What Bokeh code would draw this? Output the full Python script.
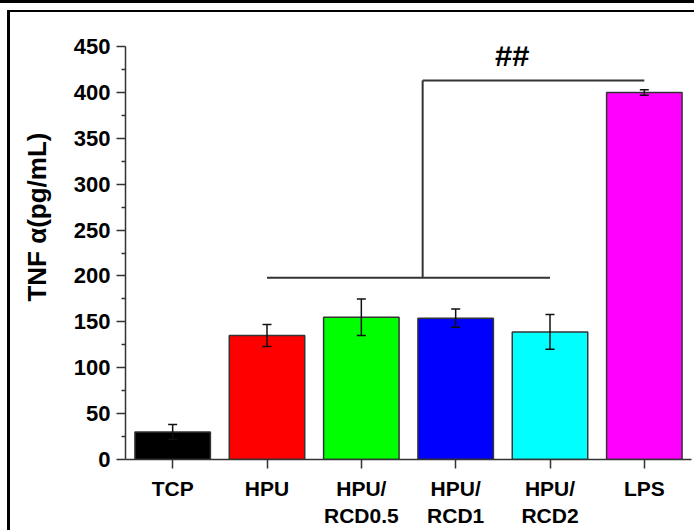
from bokeh.embed import file_html
from bokeh.models import (ColumnDataSource, FactorRange, FixedTicker,
                          InlineStyleSheet, Label, Range1d, Title, Whisker)
from bokeh.plotting import figure
from bokeh.resources import INLINE

# --- data -------------------------------------------------------------
groups = ["TCP", "HPU", "HPU/\nRCD0.5", "HPU/\nRCD1", "HPU/\nRCD2", "LPS"]
tnf_alpha = [30, 135, 155, 154, 139, 400]        # pg/mL
tnf_sd = [8, 12, 20, 10, 19, 3]
bar_colors = ["#000000", "#ff0000", "#00ff00", "#0000ff", "#00ffff", "#ff00ff"]
y_ticks = [0, 50, 100, 150, 200, 250, 300, 350, 400, 450]
y_minor = [25, 75, 125, 175, 225, 275, 325, 375, 425]

# significance bracket: HPU..HPU/RCD2 group vs LPS
bracket_low = 198
bracket_high = 413
bracket_mark = "##"

FONT = "Liberation Sans"
AXIS_GREY = "#333333"

src = ColumnDataSource(dict(
    group=groups,
    tnf=tnf_alpha,
    upper=[v + e for v, e in zip(tnf_alpha, tnf_sd)],
    lower=[v - e for v, e in zip(tnf_alpha, tnf_sd)],
    color=bar_colors,
))

# panel rules drawn around the chart (top double rule and left rule)
panel_rules = InlineStyleSheet(css="""
:host::before {
  content: ""; position: absolute; left: 0; top: 0; width: 100%; height: 3px;
  background: #000; z-index: 50; pointer-events: none;
}
:host::after {
  content: ""; position: absolute; left: 7px; top: 10px; right: 0; bottom: 0;
  border-top: 2px solid #000; border-left: 3px solid #000;
  z-index: 50; pointer-events: none;
}
""")

p = figure(
    width=694, height=530,
    x_range=FactorRange(factors=groups),
    y_range=Range1d(0, 450),
    output_backend="svg", toolbar_location=None,
    min_border_left=125, min_border_right=3,
    min_border_top=46, min_border_bottom=71,
    background_fill_color="white", border_fill_color="white",
    stylesheets=[panel_rules],
)
p.outline_line_color = None
p.xgrid.visible = False
p.ygrid.visible = False

p.vbar(x="group", top="tnf", width=0.8, source=src,
       fill_color="color", line_color=AXIS_GREY, line_width=1.5)

err = Whisker(base="group", upper="upper", lower="lower", source=src,
              line_color="#111111", line_width=1.5, level="overlay")
for head in (err.upper_head, err.lower_head):
    head.size = 9
    head.line_color = "#111111"
    head.line_width = 1.5
p.add_layout(err)

# bracket lines (x in synthetic factor coordinates: group i is centred at i + 0.5)
centre = [i + 0.5 for i in range(len(groups))]
join_x = 3.15
p.multi_line(
    xs=[[centre[1], centre[4]], [join_x, join_x], [join_x, centre[5]]],
    ys=[[bracket_low, bracket_low], [bracket_low, bracket_high],
        [bracket_high, bracket_high]],
    line_color=AXIS_GREY, line_width=2,
)
p.add_layout(Label(x=4.1, y=440, text=bracket_mark, text_font=FONT,
                   text_font_style="bold", text_font_size="31px",
                   text_align="center", text_baseline="middle",
                   text_color="black"))

# y axis title, set towards the top of the axis
p.add_layout(Title(text="TNF \u03b1(pg/mL)", align="right", offset=86,
                   standoff=38, text_font=FONT, text_font_style="bold",
                   text_font_size="26px", text_color="black"), "left")

# axes
for ax in (p.xaxis[0], p.yaxis[0]):
    ax.axis_line_color = AXIS_GREY
    ax.axis_line_width = 1.5
    ax.major_tick_line_color = AXIS_GREY
    ax.major_tick_line_width = 1.5
    ax.major_tick_in = 0
    ax.major_label_text_font = FONT
    ax.major_label_text_font_style = "bold"
    ax.major_label_text_color = "black"

p.xaxis.major_label_text_font_size = "21px"
p.xaxis.major_tick_out = 9
p.xaxis.major_label_standoff = 8

p.yaxis.ticker = FixedTicker(ticks=y_ticks, minor_ticks=y_minor)
p.yaxis.major_label_text_font_size = "22px"
p.yaxis.major_tick_out = 9
p.yaxis.minor_tick_out = 4
p.yaxis.minor_tick_in = 0
p.yaxis.minor_tick_line_color = AXIS_GREY
p.yaxis.minor_tick_line_width = 1.5
p.yaxis.major_label_standoff = 6

open("out.html", "w").write(file_html(p, INLINE))
